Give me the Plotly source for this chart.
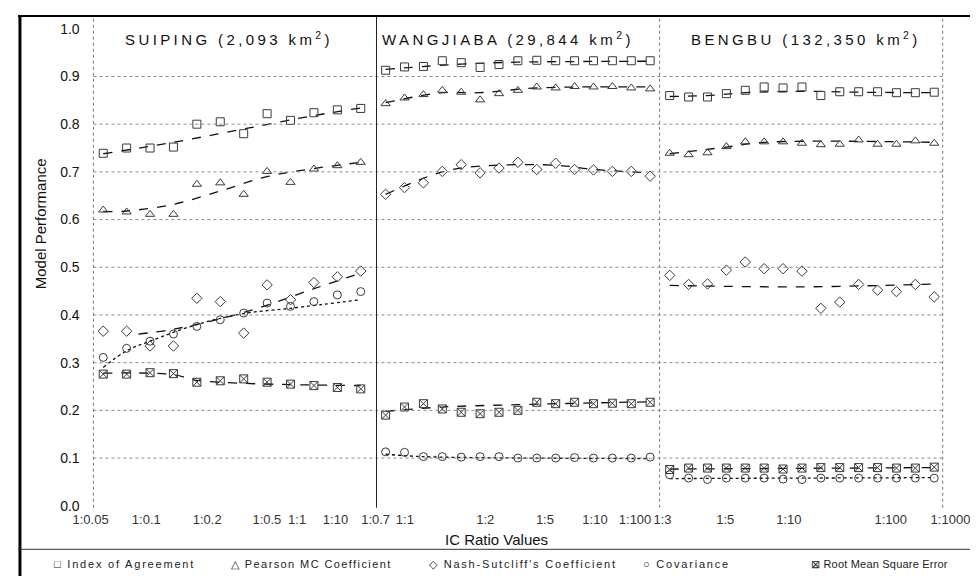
import plotly.graph_objects as go

W, H = 978, 576

# ---------------- data ----------------
panel_titles = ["SUIPING (2,093 km<sup>2</sup>)",
                "WANGJIABA (29,844 km<sup>2</sup>)",
                "BENGBU (132,350 km<sup>2</sup>)"]

series_names = ["Index of Agreement", "Pearson MC Coefficient",
                "Nash-Sutcliff's Coefficient", "Covariance",
                "Root Mean Square Error"]

# SUIPING: 12 IC ratio runs
suiping_x = list(range(12))
suiping_ia = [0.739, 0.750, 0.750, 0.752, 0.800, 0.805, 0.780, 0.822, 0.808, 0.824, 0.830, 0.833]
suiping_pe = [0.620, 0.616, 0.611, 0.611, 0.674, 0.677, 0.653, 0.701, 0.678, 0.706, 0.713, 0.720]
suiping_na = [0.366, 0.366, 0.335, 0.335, 0.435, 0.428, 0.362, 0.463, 0.432, 0.468, 0.480, 0.492]
suiping_co = [0.311, 0.330, 0.345, 0.360, 0.376, 0.390, 0.404, 0.425, 0.418, 0.428, 0.442, 0.449]
suiping_rm = [0.276, 0.276, 0.279, 0.277, 0.259, 0.262, 0.266, 0.259, 0.255, 0.252, 0.248, 0.245]

suiping_ia_tx = [0, 3, 6, 9, 11]
suiping_ia_ty = [0.738, 0.762, 0.790, 0.818, 0.834]
suiping_pe_tx = [0, 1, 3, 5, 7, 9, 11]
suiping_pe_ty = [0.617, 0.618, 0.632, 0.660, 0.690, 0.707, 0.720]
suiping_na_tx = [1.5, 3, 6, 9, 11]
suiping_na_ty = [0.360, 0.370, 0.405, 0.455, 0.488]
suiping_co_tx = [0, 1, 2, 4, 6, 8, 11]
suiping_co_ty = [0.290, 0.325, 0.345, 0.380, 0.403, 0.414, 0.432]
suiping_rm_tx = [0, 3, 4, 11]
suiping_rm_ty = [0.278, 0.275, 0.263, 0.252]

# WANGJIABA: 15 runs
wang_x = list(range(15))
wang_ia = [0.913, 0.920, 0.921, 0.933, 0.929, 0.919, 0.925, 0.933, 0.934, 0.933, 0.933, 0.933, 0.933, 0.933, 0.933]
wang_pe = [0.843, 0.855, 0.862, 0.871, 0.867, 0.851, 0.864, 0.871, 0.878, 0.876, 0.879, 0.878, 0.879, 0.876, 0.874]
wang_na = [0.653, 0.667, 0.677, 0.701, 0.715, 0.698, 0.708, 0.720, 0.705, 0.718, 0.705, 0.704, 0.701, 0.701, 0.691]
wang_co = [0.113, 0.112, 0.103, 0.103, 0.102, 0.103, 0.103, 0.100, 0.100, 0.100, 0.101, 0.100, 0.100, 0.100, 0.102]
wang_rm = [0.190, 0.207, 0.214, 0.203, 0.196, 0.193, 0.196, 0.200, 0.217, 0.214, 0.217, 0.214, 0.215, 0.214, 0.217]

wang_ia_tx = [0, 4, 7, 14]
wang_ia_ty = [0.915, 0.926, 0.930, 0.932]
wang_pe_tx = [0, 3, 5, 8, 14]
wang_pe_ty = [0.845, 0.866, 0.866, 0.876, 0.878]
wang_na_tx = [0, 3, 5, 9, 11, 14]
wang_na_ty = [0.653, 0.700, 0.712, 0.714, 0.705, 0.698]
wang_co_tx = [0, 2, 14]
wang_co_ty = [0.108, 0.103, 0.099]
wang_rm_tx = [0, 3, 7, 14]
wang_rm_ty = [0.198, 0.207, 0.212, 0.218]

# BENGBU: 15 runs
beng_x = list(range(15))
beng_ia = [0.860, 0.857, 0.857, 0.864, 0.871, 0.878, 0.876, 0.878, 0.860, 0.868, 0.868, 0.868, 0.866, 0.866, 0.867]
beng_pe = [0.739, 0.736, 0.740, 0.753, 0.763, 0.763, 0.763, 0.760, 0.757, 0.758, 0.767, 0.758, 0.758, 0.765, 0.760]
beng_na = [0.483, 0.464, 0.465, 0.494, 0.511, 0.497, 0.497, 0.492, 0.414, 0.427, 0.464, 0.452, 0.449, 0.464, 0.438]
beng_co = [0.065, 0.058, 0.055, 0.058, 0.058, 0.058, 0.056, 0.055, 0.058, 0.058, 0.058, 0.058, 0.058, 0.058, 0.058]
beng_rm = [0.076, 0.079, 0.079, 0.079, 0.079, 0.079, 0.077, 0.079, 0.080, 0.080, 0.080, 0.080, 0.079, 0.079, 0.081]

beng_ia_tx = [0, 2, 4, 7, 10, 14]
beng_ia_ty = [0.858, 0.860, 0.866, 0.869, 0.867, 0.866]
beng_pe_tx = [0, 3, 5, 14]
beng_pe_ty = [0.738, 0.752, 0.762, 0.762]
beng_na_tx = [0, 7, 14]
beng_na_ty = [0.462, 0.459, 0.465]
beng_co_tx = [0, 14]
beng_co_ty = [0.057, 0.059]
beng_rm_tx = [0, 14]
beng_rm_ty = [0.077, 0.080]

# x tick labels (IC ratio values) per panel
suiping_tickvals = [-0.54, 1.84, 4.44, 6.99, 8.28, 9.92]
suiping_ticktext = ["1:0.05", "1:0.1", "1:0.2", "1:0.5", "1:1", "1:10"]
wang_tickvals = [-0.53, 1.02, 5.27, 8.43, 11.08, 13.2]
wang_ticktext = ["1:0.7", "1:1", "1:2", "1:5", "1:10", "1:100"]
beng_tickvals = [-0.38, 2.94, 6.31, 11.7, 14.86]
beng_ticktext = ["1:3", "1:5", "1:10", "1:100", "1:1000"]

y_tickvals = [0.0, 0.1, 0.2, 0.3, 0.4, 0.5, 0.6, 0.7, 0.8, 0.9, 1.0]
y_ticktext = ["0.0", "0.1", "0.2", "0.3", "0.4", "0.5", "0.6", "0.7", "0.8", "0.9", "1.0"]

# ---------------- figure ----------------
FONT = "Liberation Sans, Arial, sans-serif"
MK = "#3a3a3a"
symbols = ["square-open", "triangle-up-open", "diamond-open", "circle-open", "square-x-open"]
dashes = ["dash", "dash", "dash", "dot", "dash"]

panels = [
    (suiping_x, [suiping_ia, suiping_pe, suiping_na, suiping_co, suiping_rm],
     [(suiping_ia_tx, suiping_ia_ty), (suiping_pe_tx, suiping_pe_ty), (suiping_na_tx, suiping_na_ty),
      (suiping_co_tx, suiping_co_ty), (suiping_rm_tx, suiping_rm_ty)]),
    (wang_x, [wang_ia, wang_pe, wang_na, wang_co, wang_rm],
     [(wang_ia_tx, wang_ia_ty), (wang_pe_tx, wang_pe_ty), (wang_na_tx, wang_na_ty),
      (wang_co_tx, wang_co_ty), (wang_rm_tx, wang_rm_ty)]),
    (beng_x, [beng_ia, beng_pe, beng_na, beng_co, beng_rm],
     [(beng_ia_tx, beng_ia_ty), (beng_pe_tx, beng_pe_ty), (beng_na_tx, beng_na_ty),
      (beng_co_tx, beng_co_ty), (beng_rm_tx, beng_rm_ty)]),
]

fig = go.Figure()
for p, (xs, ys, trends) in enumerate(panels):
    xa = "x" if p == 0 else f"x{p+1}"
    ya = "y" if p == 0 else f"y{p+1}"
    for s in range(5):
        tx, ty = trends[s]
        fig.add_trace(go.Scatter(x=tx, y=ty, mode="lines", xaxis=xa, yaxis=ya,
                                 line=dict(color="#111", width=1.3, dash=dashes[s], shape="spline"),
                                 showlegend=False, hoverinfo="skip"))
        fig.add_trace(go.Scatter(x=xs, y=ys[s], mode="markers", xaxis=xa, yaxis=ya,
                                 name=series_names[s],
                                 marker=dict(symbol=symbols[s], size=8, color=MK,
                                             line=dict(width=1, color=MK)),
                                 showlegend=False))

def px(xp):
    return xp / W

def py(yp):
    return 1 - yp / H

# panel geometry (pixels)
x_dom = [(66, 366), (358, 655), (650, 962)]
x_rng = [((66 - 87) / 23.9, (366 - 87) / 23.9),
         ((358 - 375.3) / 19.29, (655 - 375.3) / 19.29),
         ((650 - 665.3) / 19.29, (962 - 665.3) / 19.29)]
y_dom = [py(505), py(8)]
y_rng = [(503 - 505) / 482, (503 - 8) / 482]
tickv = [suiping_tickvals, wang_tickvals, beng_tickvals]
tickt = [suiping_ticktext, wang_ticktext, beng_ticktext]

layout = dict(width=W, height=H, autosize=False,
              margin=dict(l=0, r=0, t=0, b=0),
              paper_bgcolor="white", plot_bgcolor="rgba(0,0,0,0)",
              font=dict(family=FONT, color="#222"), showlegend=False)
for p in range(3):
    kx = "xaxis" if p == 0 else f"xaxis{p+1}"
    ky = "yaxis" if p == 0 else f"yaxis{p+1}"
    anchor_y = "y" if p == 0 else f"y{p+1}"
    anchor_x = "x" if p == 0 else f"x{p+1}"
    layout[kx] = dict(domain=[px(x_dom[p][0]), px(x_dom[p][1])], range=list(x_rng[p]),
                      anchor=anchor_y, tickmode="array", tickvals=tickv[p], ticktext=tickt[p],
                      showgrid=False, zeroline=False, showline=False, ticks="",
                      ticklabelstandoff=2,
                      tickfont=dict(size=13, color="#333", family=FONT), fixedrange=True)
    ydict = dict(domain=y_dom, range=list(y_rng), anchor=anchor_x,
                 showgrid=False, zeroline=False, showline=False, ticks="", fixedrange=True)
    if p == 0:
        ydict.update(tickmode="array", tickvals=y_tickvals, ticktext=y_ticktext,
                     ticklabelstandoff=2, tickfont=dict(size=14, color="#111", family=FONT))
    else:
        ydict.update(showticklabels=False)
    layout[ky] = ydict
fig.update_layout(**layout)

shapes = []
# horizontal dotted grid
for v in y_tickvals[1:-1]:
    shapes.append(dict(type="line", xref="paper", yref="y", x0=px(77), x1=px(944), y0=v, y1=v,
                       line=dict(color="#8a8a8a", width=1, dash="dot")))
# panel separators
shapes.append(dict(type="line", xref="paper", yref="paper", x0=px(77), x1=px(77), y0=py(505), y1=py(8),
                   line=dict(color="#777", width=1, dash="dot")))
shapes.append(dict(type="line", xref="paper", yref="paper", x0=px(366), x1=px(366), y0=py(505), y1=py(8),
                   line=dict(color="#222", width=1)))
shapes.append(dict(type="line", xref="paper", yref="paper", x0=px(655), x1=px(655), y0=py(505), y1=py(8),
                   line=dict(color="#777", width=1, dash="dot")))
shapes.append(dict(type="line", xref="paper", yref="paper", x0=px(944), x1=px(944), y0=py(505), y1=py(8),
                   line=dict(color="#777", width=1, dash="dot")))
# outer frame / legend separator
shapes.append(dict(type="line", xref="paper", yref="paper", x0=0, x1=1, y0=py(8), y1=py(8),
                   line=dict(color="#000", width=2)))
shapes.append(dict(type="line", xref="paper", yref="paper", x0=px(2), x1=px(2), y0=0, y1=py(8),
                   line=dict(color="#000", width=3)))
shapes.append(dict(type="line", xref="paper", yref="paper", x0=0, x1=1, y0=py(547), y1=py(547),
                   line=dict(color="#333", width=1)))
fig.update_layout(shapes=shapes)

ann = []
title_left = [107, 370, 685]
for t, lx in zip(panel_titles, title_left):
    ann.append(dict(xref="paper", yref="paper", x=px(lx), y=py(31), xanchor="left", yanchor="middle",
                    showarrow=False, text=f'<span style="letter-spacing:3.4px">{t}</span>',
                    font=dict(size=15, color="#111", family=FONT)))
ann.append(dict(xref="paper", yref="paper", x=px(488), y=py(537), xanchor="center", yanchor="middle",
                showarrow=False, text="IC Ratio Values", font=dict(size=15, color="#111", family=FONT)))
ann.append(dict(xref="paper", yref="paper", x=px(23), y=py(218), xanchor="center", yanchor="middle",
                showarrow=False, text="Model Performance", textangle=-90,
                font=dict(size=15, color="#111", family=FONT)))
legend_syms = ["□", "△", "◇", "○", "⊠"]
legend_x = [35, 215, 418, 636, 808]
legend_ls = [1.8, 1.4, 1.8, 1.8, 0.2]
for sym, name, lx, ls in zip(legend_syms, series_names, legend_x, legend_ls):
    ann.append(dict(xref="paper", yref="paper", x=px(lx), y=py(562), xanchor="left", yanchor="middle",
                    showarrow=False,
                    text=f'<span style="letter-spacing:{ls}px">{sym} {name}</span>',
                    font=dict(size=11, color="#222", family=FONT)))
fig.update_layout(annotations=ann)

fig.write_html("out.html")
